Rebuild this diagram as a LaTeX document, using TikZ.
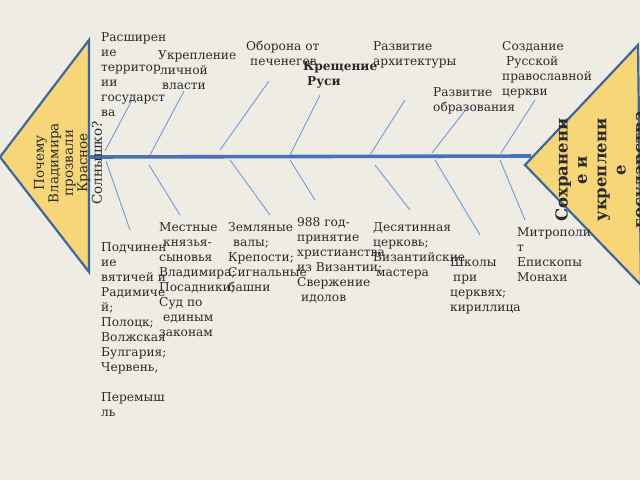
\documentclass[tikz,border=0pt]{standalone}
\usepackage{fontspec}
\setmainfont{DejaVu Serif}
\definecolor{bg}{HTML}{EFECE3}
\definecolor{headfill}{HTML}{F6D676}
\definecolor{headline}{HTML}{3E66A0}
\definecolor{spinec}{HTML}{4472BD}
\definecolor{bonec}{HTML}{6F9BDA}
\definecolor{txt}{HTML}{2A2A2A}
\begin{document}
\begin{tikzpicture}[x=1pt,y=-1pt,
  lbl/.style={anchor=north west, inner sep=0pt, align=left, text=txt,
    font=\fontsize{12.2}{15}\selectfont},
  bone/.style={draw=bonec, line width=0.9pt},
  head/.style={fill=headfill, draw=headline, line width=2.2pt, line join=miter},
  spine/.style={draw=spinec, line width=3.6pt}]
\fill[bg] (0,0) rectangle (640,480);
\useasboundingbox (0,0) rectangle (640,480);

% heads
\draw[head] (0,157) -- (89,40) -- (89,272) -- cycle;
\draw[head] (525,165) -- (638,45) -- (641,285) -- cycle;
\coordinate (sL) at (89,157);
\coordinate (sR) at (531,156);
\draw[spine] (sL) -- (sR);

% head texts
\node[rotate=90, align=center, inner sep=0pt, text=txt,
  font=\fontsize{13.5}{14.5}\selectfont] (q) at (68,163)
  {Почему\\Владимира\\прозвали\\Красное\\Солнышко?};
\node[rotate=90, align=center, inner sep=0pt, text=txt,
  font=\bfseries\fontsize{16.5}{19.3}\selectfont] (goal) at (602,170)
  {Сохранени\\е и\\укреплени\\е\\государства};

% upper bones
\foreach \i/\ax/\ay/\bx/\by in {1/105/151/132/100, 2/150/155/184/91, 3/220/150/269/81,
  4/290/155/320/95, 5/370/155/405/100, 6/432/153/467/108, 7/501/153/535/100}{
  \coordinate (ua\i) at (\ax,\ay);
  \coordinate (ub\i) at (\bx,\by);
  \draw[bone] (ua\i) -- (ub\i);
}
% lower bones
\foreach \i/\ax/\ay/\bx/\by in {1/106/161/130/230, 2/149/165/180/215, 3/230/160/270/215,
  4/290/160/315/200, 5/375/165/410/210, 6/435/160/480/235, 7/500/160/525/220}{
  \coordinate (la\i) at (\ax,\ay);
  \coordinate (lb\i) at (\bx,\by);
  \draw[bone] (la\i) -- (lb\i);
}

% upper labels
\node[lbl] (t1) at (101,32) {Расширен\\ие\\территор\\ии\\государст\\ва};
\node[lbl] (t2) at (158,50) {Укрепление\\\hspace*{2pt}личной\\\hspace*{4pt}власти};
\node[lbl] (t3) at (246,41) {Оборона от\\\hspace*{4pt}печенегов};
\node[lbl, font=\bfseries\fontsize{12.2}{15}\selectfont] (t4) at (303,61) {Крещение\\\hspace*{4pt}Руси};
\node[lbl] (t5) at (373,41) {Развитие\\архитектуры};
\node[lbl] (t6) at (433,87) {Развитие\\образования};
\node[lbl] (t7) at (502,41) {Создание\\\hspace*{4pt}Русской\\православной\\церкви};

% lower labels
\node[lbl] (b1) at (101,242.5) {Подчинен\\ие\\вятичей и\\Радимиче\\й;\\Полоцк;\\Волжская\\Булгария;\\Червень,\\[15pt]Перемыш\\ль};
\node[lbl] (b2) at (159,222.5) {Местные\\\hspace*{4pt}князья-\\сыновья\\Владимира;\\Посадники;\\Суд по\\\hspace*{4pt}единым\\законам};
\node[lbl] (b3) at (228,222.5) {Земляные\\\hspace*{5pt}валы;\\Крепости;\\Сигнальные\\башни};
\node[lbl] (b4) at (297,217.5) {988 год-\\принятие\\христианства\\из Византии;\\Свержение\\\hspace*{4pt}идолов};
\node[lbl] (b5) at (373,222.5) {Десятинная\\церковь;\\Византийские\\\hspace*{3pt}мастера};
\node[lbl] (b6) at (450,257.5) {Школы\\\hspace*{3pt}при\\церквях;\\кириллица};
\node[lbl] (b7) at (517,227.5) {Митрополи\\т\\Епископы\\Монахи};
\end{tikzpicture}
\end{document}
